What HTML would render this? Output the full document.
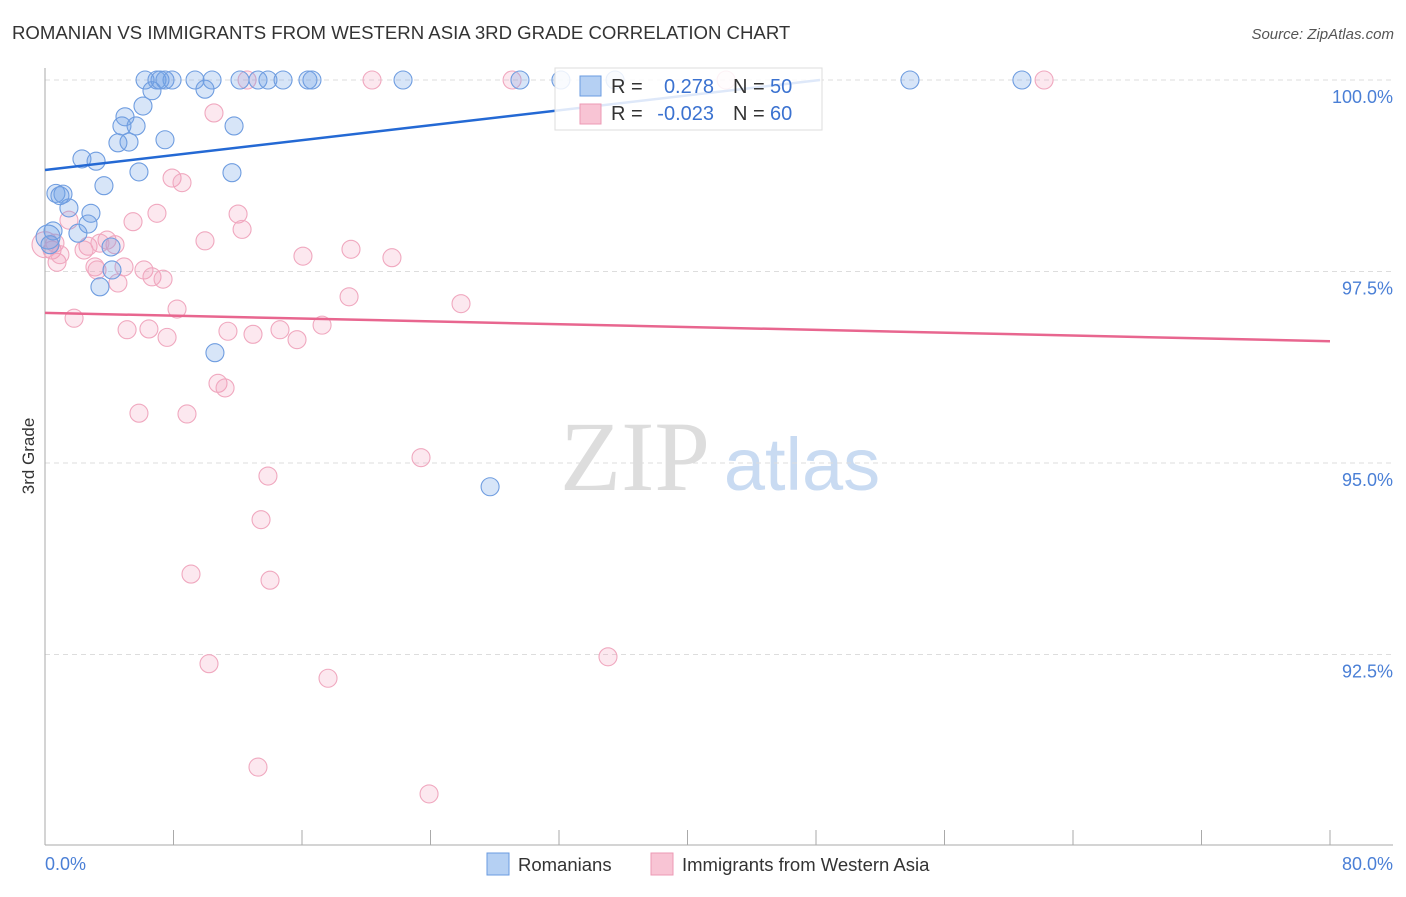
<!DOCTYPE html>
<html><head><meta charset="utf-8"><style>
body{margin:0;background:#fff;font-family:"Liberation Sans",sans-serif}
</style></head><body>
<svg id="c" width="1406" height="892" font-family="Liberation Sans, sans-serif">
<text x="12" y="39" font-size="18.6" fill="#333">ROMANIAN VS IMMIGRANTS FROM WESTERN ASIA 3RD GRADE CORRELATION CHART</text>
<text x="1394" y="39" font-size="15" fill="#555" font-style="italic" text-anchor="end">Source: ZipAtlas.com</text>
<text transform="translate(34,456) rotate(-90)" font-size="17" fill="#333" text-anchor="middle">3rd Grade</text>
<g><text x="635" y="490" font-size="100" fill="#ddd" style="font-family:'Liberation Serif',serif" text-anchor="middle">ZIP</text><text x="802" y="490" font-size="74" fill="#c9dbf2" text-anchor="middle">atlas</text></g>
<g id="grid"></g><g id="pts"></g><g id="trend"></g>
<g>
<rect x="555" y="68" width="267" height="62" fill="#fff" fill-opacity="0.85" stroke="#ddd"/>
<rect x="580" y="76" width="21" height="20" fill="#b5d0f3" stroke="#6a9be0"/>
<rect x="580" y="104" width="21" height="20" fill="#f8c4d4" stroke="#ec9ab4"/>
<text x="611" y="93" font-size="20" fill="#333">R =</text><text x="714" y="93" font-size="20" fill="#3b72d0" text-anchor="end">0.278</text>
<text x="733" y="93" font-size="20" fill="#333">N =</text><text x="770" y="93" font-size="20" fill="#3b72d0">50</text>
<text x="611" y="120" font-size="20" fill="#333">R =</text><text x="714" y="120" font-size="20" fill="#3b72d0" text-anchor="end">-0.023</text>
<text x="733" y="120" font-size="20" fill="#333">N =</text><text x="770" y="120" font-size="20" fill="#3b72d0">60</text>
</g>
<g>
<rect x="487" y="853" width="22" height="22" fill="#b5d0f3" stroke="#6a9be0"/>
<text x="518" y="871" font-size="18.5" fill="#333">Romanians</text>
<rect x="651" y="853" width="22" height="22" fill="#f8c4d4" stroke="#ec9ab4"/>
<text x="682" y="871" font-size="18.5" fill="#333">Immigrants from Western Asia</text>
</g>
</svg>
<script>
const yTicks=[100,97.5,95,92.5];
const yTickLabels=["100.0%","97.5%","95.0%","92.5%"];
const xTickLabels=["0.0%","80.0%"];
const blueX=[6.23,6.97,7.91,9.34,10.40,12.14,13.26,13.88,14.82,16.37,16.62,22.29,29.57,32.12,35.49,53.85,60.82,6.66,9.96,6.10,4.98,4.79,5.67,11.77,4.54,5.23,7.47,2.30,3.18,5.85,11.64,3.67,0.68,1.12,1.49,2.86,2.68,0.50,2.05,0.19,4.11,4.17,3.42,10.58,27.71,7.47,7.16,0.31,0.93];
const blueY=[100,100,100,100,100,100,100,100,100,100,100,100,100,100,100,100,100,99.86,99.88,99.66,99.52,99.40,99.40,99.40,99.18,99.19,99.22,98.97,98.94,98.80,98.79,98.62,98.52,98.51,98.33,98.26,98.12,98.03,98.00,97.95,97.82,97.52,97.30,96.44,94.69,100,100,97.85,98.49];
const pinkX=[12.58,20.36,29.08,42.40,62.20,10.52,7.91,8.53,6.97,12.02,5.48,12.27,1.49,9.96,3.86,4.36,2.68,16.06,19.05,21.60,2.43,0.44,0.75,3.11,4.92,3.24,6.16,6.66,7.35,4.54,18.93,25.90,8.22,1.81,5.11,6.47,7.60,11.39,12.95,14.63,15.69,17.25,10.77,11.21,5.85,8.84,23.41,13.88,13.45,9.09,14.01,35.05,10.21,17.62,13.26,23.91,0,0.62,0.93,3.42];
const pinkY=[100,100,100,100,100,99.57,98.72,98.66,98.26,98.25,98.15,98.05,98.17,97.90,97.91,97.85,97.83,97.70,97.79,97.68,97.78,97.78,97.62,97.56,97.56,97.52,97.52,97.43,97.40,97.35,97.17,97.08,97.01,96.89,96.74,96.75,96.64,96.72,96.68,96.74,96.61,96.80,96.04,95.98,95.65,95.64,95.07,94.83,94.26,93.55,93.47,92.47,92.38,92.19,91.03,90.68,97.85,97.87,97.72,97.87];
const blueTrend=[[0,98.825],[48.25,100.0]];
const pinkTrend=[[0,96.96],[80,96.59]];
const NS="http://www.w3.org/2000/svg";
const X=v=>45+v/80*1285, Y=v=>80+(100-v)/2.5*191.5;
function mk(t,a,p){const e=document.createElementNS(NS,t);for(const k in a)e.setAttribute(k,a[k]);p.appendChild(e);return e;}
const g=document.getElementById('grid');
yTicks.forEach((t,i)=>{
 const l=mk('line',{x1:45,x2:1393,y1:Y(t),y2:Y(t),stroke:'#ddd','stroke-dasharray':'5,4'},g);
 
 
 const tx=mk('text',{x:1393,y:Y(t)+23,'font-size':18,fill:'#4a7fd6','text-anchor':'end'},g);
 tx.textContent=yTickLabels[i];
 
 
});
const ax=mk('line',{x1:45,x2:1393,y1:845,y2:845,stroke:'#aaa'},g);


const ay=mk('line',{x1:45,x2:45,y1:68,y2:845,stroke:'#aaa'},g);


for(let v=8;v<=80;v+=8){const t=mk('line',{x1:X(v),x2:X(v),y1:830,y2:845,stroke:'#aaa'},g);
 
 }
const x0=mk('text',{x:45,y:870,'font-size':18,fill:'#4a7fd6'},g);x0.textContent=xTickLabels[0];


const x1=mk('text',{x:1393,y:870,'font-size':18,fill:'#4a7fd6','text-anchor':'end'},g);x1.textContent=xTickLabels[1];


const P=document.getElementById('pts');
pinkX.forEach((x,i)=>{const c=mk('circle',{cx:X(x),cy:Y(pinkY[i]),r:(x<0.1?13:9),fill:'rgba(242,150,180,0.22)',stroke:'#f0a8bf','stroke-width':1.1},P);
 
 });
blueX.forEach((x,i)=>{const c=mk('circle',{cx:X(x),cy:Y(blueY[i]),r:(x<0.25?12:9),fill:'rgba(110,160,230,0.28)',stroke:'#6f9de0','stroke-width':1.1},P);
 
 });
const T=document.getElementById('trend');
const bt=mk('line',{x1:X(blueTrend[0][0]),y1:Y(blueTrend[0][1]),x2:X(blueTrend[1][0]),y2:Y(blueTrend[1][1]),stroke:'#2469d4','stroke-width':2.5},T);


const pt=mk('line',{x1:X(pinkTrend[0][0]),y1:Y(pinkTrend[0][1]),x2:X(pinkTrend[1][0]),y2:Y(pinkTrend[1][1]),stroke:'#e8668f','stroke-width':2.5},T);


</script>
</body></html>
